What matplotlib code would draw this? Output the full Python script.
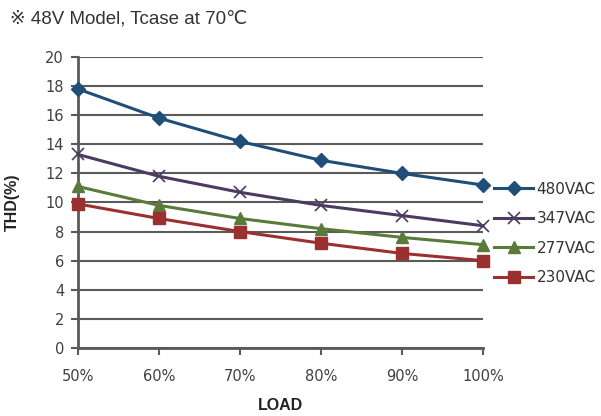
import numpy as np
import matplotlib
matplotlib.use("Agg")
import matplotlib.pyplot as plt

plt.rcParams['font.family'] = ['Liberation Sans', 'DejaVu Sans', 'Noto Sans CJK SC']

load_labels = ['50%', '60%', '70%', '80%', '90%', '100%']
load = [50, 60, 70, 80, 90, 100]
thd_480 = [17.8, 15.8, 14.2, 12.9, 12.0, 11.2]
thd_347 = [13.3, 11.8, 10.7, 9.8, 9.1, 8.4]
thd_277 = [11.1, 9.8, 8.9, 8.2, 7.6, 7.1]
thd_230 = [9.9, 8.9, 8.0, 7.2, 6.5, 6.0]

fig = plt.figure(figsize=(6.01, 4.16), dpi=100)
ax = fig.add_axes([0.1298, 0.1635, 0.6739, 0.6995])

ax.plot(load, thd_480, color='#1f4e79', lw=2.2, marker='D', ms=7, label='480VAC', clip_on=False, zorder=5)
ax.plot(load, thd_347, color='#4b3b60', lw=2.2, marker='x', ms=9, mew=1.2, label='347VAC', clip_on=False, zorder=5)
ax.plot(load, thd_277, color='#5a7a3a', lw=2.2, marker='^', ms=9, label='277VAC', clip_on=False, zorder=5)
ax.plot(load, thd_230, color='#9b3030', lw=2.2, marker='s', ms=9, label='230VAC', clip_on=False, zorder=5)

ax.set_xlim(50, 100)
ax.set_ylim(0, 20)
ax.set_xticks(load)
ax.set_xticklabels(load_labels)
ax.set_yticks(np.arange(0, 21, 2))
ax.grid(axis='y', color='#5a5a5a', lw=1.5)
ax.set_axisbelow(True)
for s in ['top', 'right']:
    ax.spines[s].set_visible(False)
for s in ['left', 'bottom']:
    ax.spines[s].set_color('#5a5a5a')
    ax.spines[s].set_linewidth(2)
ax.tick_params(axis='both', direction='out', length=5, width=1.5, color='#5a5a5a',
               labelcolor='#404040', labelsize=10.5)
ax.tick_params(axis='x', pad=10)
ax.tick_params(axis='y', pad=5)
for t in ax.get_xticklabels() + ax.get_yticklabels():
    t.set_family(['DejaVu Sans'])

ax.set_xlabel('LOAD', fontsize=11.5, fontweight='bold', color='#222222', labelpad=10)
ax.set_ylabel('THD(%)', fontsize=11.5, fontweight='bold', color='#222222', labelpad=18)

leg = ax.legend(loc='center left', bbox_to_anchor=(1.0, 0.394), frameon=False,
                fontsize=11, handlelength=2.6, handletextpad=0.2, labelspacing=0.95,
                labelcolor='#333333', borderaxespad=0.3)
for t in leg.get_texts():
    t.set_family(['DejaVu Sans'])

fig.text(0.017, 0.955, '※ 48V Model, Tcase at 70℃', fontsize=13.5, color='#333333',
         va='center', ha='left', family=['Liberation Sans', 'DejaVu Sans', 'Noto Sans CJK SC'])

fig.savefig('out.png', dpi=100)
